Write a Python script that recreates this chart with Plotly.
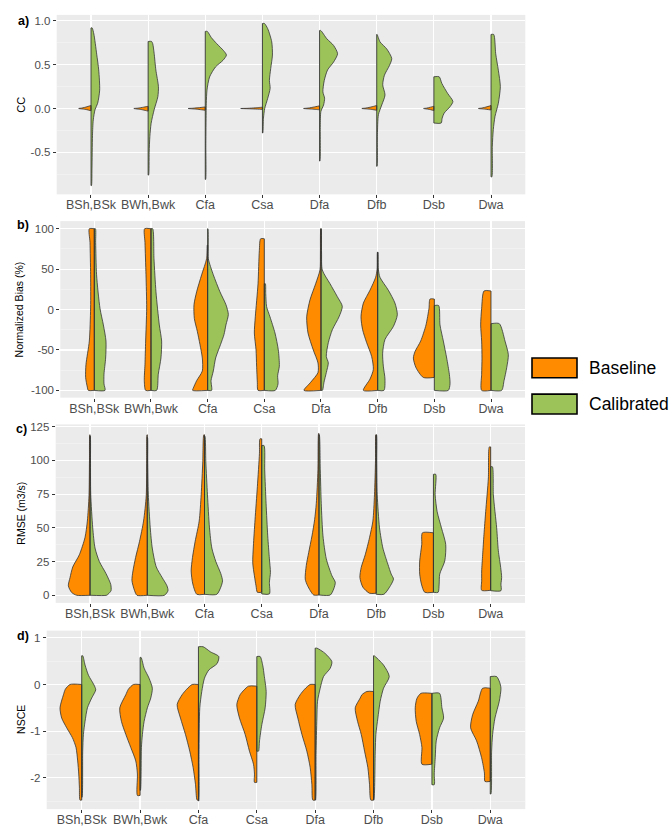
import plotly.graph_objects as go

# ---------------- data ----------------
CATEGORIES = ["BSh,BSk", "BWh,Bwk", "Cfa", "Csa", "Dfa", "Dfb", "Dsb", "Dwa"]
GROUPS = ["Baseline", "Calibrated"]

# Half-violin density profiles: (value, half-width in category units), top -> bottom
CC_BASELINE = {
    "BSh,BSk": [(0.035, 0.0), (0.02, 0.07), (0.005, 0.16), (0.0, 0.215), (-0.01, 0.1), (-0.025, 0.0)],
    "BWh,Bwk": [(0.025, 0.0), (0.015, 0.08), (0.004, 0.18), (0.0, 0.25), (-0.012, 0.12), (-0.03, 0.0)],
    "Cfa": [(0.018, 0.0), (0.01, 0.1), (0.003, 0.22), (0.0, 0.30), (-0.008, 0.15), (-0.02, 0.0)],
    "Csa": [(0.015, 0.0), (0.008, 0.12), (0.002, 0.26), (0.0, 0.38), (-0.004, 0.2), (-0.01, 0.0)],
    "Dfa": [(0.03, 0.0), (0.018, 0.09), (0.005, 0.2), (0.0, 0.28), (-0.007, 0.13), (-0.015, 0.0)],
    "Dfb": [(0.034, 0.0), (0.02, 0.08), (0.005, 0.19), (0.0, 0.26), (-0.008, 0.12), (-0.02, 0.0)],
    "Dsb": [(0.026, 0.0), (0.015, 0.06), (0.004, 0.13), (0.0, 0.18), (-0.01, 0.08), (-0.023, 0.0)],
    "Dwa": [(0.033, 0.0), (0.02, 0.07), (0.005, 0.16), (0.0, 0.22), (-0.008, 0.1), (-0.017, 0.0)],
}
CC_CALIBRATED = {
    "BSh,BSk": [(0.92, 0.02), (0.85, 0.05), (0.62, 0.10), (0.44, 0.135), (0.21, 0.152), (0.06, 0.117),
                (-0.015, 0.07), (-0.13, 0.04), (-0.31, 0.026), (-0.69, 0.017), (-0.88, 0.008)],
    "BWh,Bwk": [(0.765, 0.06), (0.74, 0.08), (0.63, 0.105), (0.44, 0.135), (0.25, 0.18), (0.135, 0.17),
                (-0.015, 0.105), (-0.17, 0.052), (-0.32, 0.03), (-0.5, 0.018), (-0.76, 0.008)],
    "Cfa": [(0.88, 0.035), (0.81, 0.105), (0.74, 0.2), (0.66, 0.32), (0.61, 0.37), (0.55, 0.31),
            (0.475, 0.18), (0.36, 0.075), (0.21, 0.03), (0.06, 0.018), (-0.05, 0.015), (-0.4, 0.01), (-0.81, 0.006)],
    "Csa": [(0.97, 0.035), (0.91, 0.093), (0.76, 0.163), (0.61, 0.175), (0.456, 0.145), (0.32, 0.122),
            (0.23, 0.135), (0.117, 0.093), (0.0, 0.04), (-0.11, 0.018), (-0.28, 0.006)],
    "Dfa": [(0.89, 0.02), (0.795, 0.128), (0.72, 0.245), (0.625, 0.315), (0.53, 0.245), (0.44, 0.14),
            (0.32, 0.082), (0.19, 0.058), (0.117, 0.088), (0.04, 0.07), (-0.034, 0.023), (-0.2, 0.012), (-0.6, 0.006)],
    "Dfb": [(0.845, 0.006), (0.76, 0.058), (0.68, 0.175), (0.57, 0.263), (0.49, 0.222), (0.38, 0.135),
            (0.27, 0.105), (0.154, 0.145), (0.04, 0.088), (-0.07, 0.03), (-0.3, 0.012), (-0.66, 0.006)],
    "Dsb": [(0.362, 0.093), (0.286, 0.14), (0.173, 0.24), (0.08, 0.333), (0.022, 0.285), (-0.053, 0.18),
            (-0.11, 0.145), (-0.166, 0.128)],
    "Dwa": [(0.845, 0.047), (0.625, 0.082), (0.437, 0.128), (0.25, 0.163), (0.06, 0.128), (-0.09, 0.07),
            (-0.24, 0.04), (-0.43, 0.023), (-0.78, 0.015)],
}

BIAS_BASELINE = {
    "BSh,BSk": [(100, 0.088), (83, 0.076), (43, 0.065), (2, 0.065), (-39, 0.088), (-68, 0.147), (-84, 0.153),
                (-96, 0.123), (-100, 0.106)],
    "BWh,Bwk": [(100, 0.112), (83, 0.106), (43, 0.088), (2, 0.076), (-39, 0.094), (-68, 0.106), (-88, 0.118),
                (-100, 0.094)],
    "Cfa": [(80, 0.005), (63, 0.018), (43, 0.106), (22, 0.194), (6, 0.241), (-11, 0.235), (-27, 0.182),
            (-43, 0.136), (-60, 0.094), (-76, 0.094), (-88, 0.194), (-97, 0.252), (-100, 0.265)],
    "Csa": [(87.6, 0.065), (73, 0.088), (32, 0.111), (-9, 0.159), (-29, 0.176), (-50, 0.146), (-70, 0.136),
            (-90, 0.123), (-100, 0.111)],
    "Dfa": [(100, 0.004), (70, 0.01), (49, 0.018), (32, 0.094), (12, 0.194), (-9, 0.252), (-29, 0.229),
            (-50, 0.136), (-66, 0.053), (-78, 0.053), (-90, 0.182), (-100, 0.3)],
    "Dfb": [(71, 0.004), (50, 0.01), (40, 0.035), (24, 0.135), (8, 0.252), (-9, 0.294), (-25, 0.265),
            (-41, 0.194), (-58, 0.106), (-74, 0.076), (-86, 0.135), (-100, 0.252)],
    "Dsb": [(13, 0.076), (1.6, 0.094), (-19, 0.147), (-39, 0.241), (-52, 0.341), (-60, 0.37), (-72, 0.323),
            (-84, 0.194)],
    "Dwa": [(23, 0.123), (1.6, 0.165), (-19, 0.182), (-39, 0.165), (-60, 0.159), (-80, 0.165), (-100, 0.165)],
}
BIAS_CALIBRATED = {
    "BSh,BSk": [(100, 0.02), (83, 0.024), (43, 0.04), (1.6, 0.1), (-19, 0.16), (-39, 0.206), (-60, 0.2),
                (-80, 0.171), (-92, 0.171), (-100, 0.189)],
    "BWh,Bwk": [(100, 0.03), (63, 0.053), (22, 0.088), (-19, 0.147), (-39, 0.188), (-60, 0.176), (-80, 0.129),
                (-100, 0.1)],
    "Cfa": [(100, 0.005), (75, 0.01), (63, 0.012), (43, 0.1), (22, 0.217), (6, 0.323), (-6, 0.365),
            (-19, 0.323), (-31, 0.288), (-43, 0.229), (-60, 0.141), (-76, 0.1), (-88, 0.06), (-100, 0.07)],
    "Csa": [(32, 0.018), (20, 0.025), (3.7, 0.04), (-9, 0.1), (-29, 0.188), (-50, 0.247), (-70, 0.265),
            (-82, 0.235), (-92, 0.242), (-100, 0.194)],
    "Dfa": [(100, 0.004), (70, 0.01), (49, 0.023), (32, 0.159), (16, 0.288), (4, 0.376), (-9, 0.318),
            (-25, 0.2), (-41, 0.129), (-58, 0.094), (-66, 0.129), (-78, 0.094), (-90, 0.053), (-100, 0.025)],
    "Dfb": [(71, 0.004), (50, 0.012), (40, 0.04), (24, 0.188), (8, 0.305), (-6.5, 0.347), (-21, 0.277),
            (-37, 0.129), (-54, 0.088), (-70, 0.1), (-86, 0.129), (-100, 0.111)],
    "Dsb": [(5, 0.076), (-19, 0.1), (-39, 0.159), (-60, 0.218), (-80, 0.265), (-92, 0.277), (-100, 0.247)],
    "Dwa": [(-17.5, 0.147), (-39, 0.247), (-56, 0.306), (-72, 0.277), (-88, 0.23), (-100, 0.188)],
}

RMSE_BASELINE = {
    "BSh,BSk": [(119, 0.004), (100, 0.01), (74, 0.018), (55, 0.047), (43, 0.087), (30, 0.187), (21, 0.302),
                (13, 0.35), (7, 0.379), (2, 0.32), (0, 0.233)],
    "BWh,Bwk": [(119, 0.004), (100, 0.01), (74, 0.018), (55, 0.065), (40, 0.135), (28, 0.204), (18, 0.25),
                (11, 0.268), (3.4, 0.222), (0, 0.18)],
    "Cfa": [(119, 0.012), (99, 0.03), (74.5, 0.058), (55, 0.093), (40, 0.163), (28, 0.21), (18, 0.233),
            (8.3, 0.204), (0.7, 0.134)],
    "Csa": [(116, 0.03), (105, 0.04), (80.6, 0.076), (56, 0.117), (36.5, 0.146), (24, 0.157), (14.4, 0.128),
            (7, 0.1), (2.2, 0.076)],
    "Dfa": [(120, 0.006), (93, 0.018), (68, 0.047), (56, 0.076), (44, 0.122), (31.6, 0.18), (22, 0.222),
            (12, 0.24), (7, 0.198), (0.2, 0.093)],
    "Dfb": [(119, 0.006), (100, 0.012), (74.5, 0.03), (55, 0.058), (42.6, 0.117), (30, 0.192), (20.6, 0.262),
            (13.2, 0.285), (6, 0.233), (1.5, 0.117)],
    "Dsb": [(46.3, 0.192), (37.7, 0.204), (25.4, 0.24), (15.7, 0.24), (8.3, 0.21), (2.2, 0.152)],
    "Dwa": [(110, 0.023), (87, 0.04), (62, 0.087), (45, 0.117), (30, 0.14), (18, 0.157), (10.7, 0.157),
            (3.7, 0.157)],
}
RMSE_CALIBRATED = {
    "BSh,BSk": [(118, 0.004), (100, 0.008), (75, 0.012), (50, 0.047), (35, 0.087), (25, 0.163), (16, 0.28),
                (8, 0.362), (3.4, 0.367), (1, 0.32), (0, 0.29)],
    "BWh,Bwk": [(117, 0.004), (100, 0.008), (75, 0.018), (50, 0.052), (35, 0.087), (21, 0.157), (13, 0.262),
                (7, 0.344), (3.4, 0.362), (0, 0.3)],
    "Cfa": [(118, 0.008), (99, 0.023), (74.5, 0.052), (50, 0.087), (35, 0.128), (25, 0.198), (16, 0.285),
            (10.7, 0.315), (6, 0.285), (0.7, 0.215)],
    "Csa": [(111, 0.04), (93, 0.052), (68, 0.076), (44, 0.105), (27, 0.134), (17, 0.152), (9.6, 0.134),
            (1, 0.134)],
    "Dfa": [(119, 0.006), (93, 0.023), (68, 0.04), (44, 0.07), (27, 0.128), (14.4, 0.227), (9.6, 0.285),
            (4.6, 0.257), (0.2, 0.198)],
    "Dfb": [(119, 0.006), (100, 0.01), (74.5, 0.018), (50, 0.058), (35, 0.117), (23, 0.204), (15.7, 0.262),
            (12, 0.302), (6, 0.233), (0.7, 0.134)],
    "Dsb": [(89.7, 0.04), (74.5, 0.03), (62, 0.065), (50, 0.14), (37.7, 0.215), (25.4, 0.198), (15.7, 0.11),
            (8.3, 0.1), (2.2, 0.082)],
    "Dwa": [(95.3, 0.03), (74.5, 0.047), (50, 0.105), (33, 0.134), (20.6, 0.175), (13.2, 0.192), (8.3, 0.18),
            (3.4, 0.18)],
}

NSCE_BASELINE = {
    "BSh,BSk": [(0, 0.2), (-0.1, 0.28), (-0.22, 0.313), (-0.5, 0.372), (-0.72, 0.343), (-0.93, 0.257),
                (-1.14, 0.16), (-1.35, 0.098), (-1.64, 0.069), (-1.92, 0.051), (-2.2, 0.04), (-2.48, 0.029)],
    "BWh,Bwk": [(0, 0.114), (-0.1, 0.2), (-0.22, 0.245), (-0.5, 0.348), (-0.79, 0.32), (-1.07, 0.245),
                (-1.35, 0.16), (-1.64, 0.074), (-1.92, 0.046), (-2.38, 0.046)],
    "Cfa": [(0, 0.108), (-0.1, 0.2), (-0.22, 0.28), (-0.43, 0.365), (-0.72, 0.308), (-1.07, 0.223),
            (-1.43, 0.149), (-1.78, 0.091), (-2.14, 0.051), (-2.48, 0.023)],
    "Csa": [(-0.036, 0.143), (-0.12, 0.22), (-0.22, 0.286), (-0.43, 0.343), (-0.72, 0.297), (-1.07, 0.2),
            (-1.43, 0.126), (-1.71, 0.057), (-1.92, 0.04), (-2.1, 0.04)],
    "Dfa": [(0, 0.086), (-0.1, 0.18), (-0.22, 0.257), (-0.43, 0.343), (-0.72, 0.297), (-1.07, 0.228),
            (-1.43, 0.143), (-1.78, 0.086), (-2.14, 0.057), (-2.48, 0.04)],
    "Dfb": [(-0.15, 0.114), (-0.22, 0.2), (-0.29, 0.228), (-0.5, 0.314), (-0.79, 0.274), (-1.07, 0.211),
            (-1.43, 0.154), (-1.78, 0.098), (-2.14, 0.069), (-2.48, 0.046)],
    "Dsb": [(-0.19, 0.188), (-0.3, 0.257), (-0.5, 0.286), (-0.79, 0.269), (-1.07, 0.211), (-1.35, 0.171),
            (-1.71, 0.171)],
    "Dwa": [(-0.08, 0.131), (-0.36, 0.206), (-0.65, 0.303), (-0.93, 0.337), (-1.21, 0.234), (-1.57, 0.149),
            (-1.9, 0.1), (-2.08, 0.091)],
}
NSCE_CALIBRATED = {
    "BSh,BSk": [(0.617, 0.017), (0.417, 0.057), (0.2, 0.115), (-0.01, 0.21), (-0.115, 0.24), (-0.29, 0.171),
                (-0.5, 0.098), (-0.79, 0.057), (-1.07, 0.029), (-1.43, 0.017), (-2.42, 0.006)],
    "BWh,Bwk": [(0.58, 0.017), (0.35, 0.069), (0.134, 0.154), (-0.08, 0.21), (-0.29, 0.183), (-0.5, 0.125),
                (-0.79, 0.069), (-1.07, 0.04), (-1.35, 0.023), (-2.27, 0.006)],
    "Cfa": [(0.81, 0.08), (0.7, 0.206), (0.6, 0.348), (0.45, 0.32), (0.31, 0.177), (0.134, 0.103),
            (-0.15, 0.057), (-0.5, 0.023), (-1.5, 0.01), (-2.5, 0.005)],
    "Csa": [(0.6, 0.057), (0.4, 0.103), (0.2, 0.126), (-0.15, 0.16), (-0.5, 0.143), (-0.86, 0.086),
            (-1.21, 0.046), (-1.43, 0.029)],
    "Dfa": [(0.78, 0.029), (0.666, 0.171), (0.49, 0.286), (0.347, 0.257), (0.17, 0.143), (-0.08, 0.086),
            (-0.36, 0.04), (-0.72, 0.029), (-1.5, 0.015), (-2.48, 0.006)],
    "Dfb": [(0.617, 0.01), (0.417, 0.171), (0.17, 0.269), (-0.08, 0.171), (-0.36, 0.114), (-0.72, 0.074),
            (-1.07, 0.04), (-1.43, 0.029), (-2.48, 0.006)],
    "Dsb": [(-0.19, 0.131), (-0.5, 0.171), (-0.72, 0.2), (-0.93, 0.131), (-1.21, 0.074), (-1.57, 0.057),
            (-1.92, 0.04), (-2.15, 0.04)],
    "Dwa": [(0.17, 0.108), (0.05, 0.16), (-0.08, 0.183), (-0.36, 0.154), (-0.72, 0.08), (-1.07, 0.04),
            (-1.43, 0.023), (-2.35, 0.011)],
}

PANEL_LABELS = ["a)", "b)", "c)", "d)"]
Y_TITLES = ["CC", "Normalized Bias (%)", "RMSE (m3/s)", "NSCE"]
Y_TICKS = [[-0.5, 0.0, 0.5, 1.0], [-100, -50, 0, 50, 100], [0, 25, 50, 75, 100, 125], [-2, -1, 0, 1]]
Y_TICKTEXT = [["-0.5", "0.0", "0.5", "1.0"], ["-100", "-50", "0", "50", "100"],
              ["0", "25", "50", "75", "100", "125"], ["-2", "-1", "0", "1"]]

# ---------------- style / layout ----------------
W, H = 672, 827
COLORS = {"Baseline": "#FF8C00", "Calibrated": "#9CC35A"}
OUTLINE = "#333333"
FONT = "Liberation Sans, Arial, sans-serif"

panels = [
    dict(base=CC_BASELINE, cal=CC_CALIBRATED, xdom=(56.7, 525.3), ydom=(11, 192), yr=(-0.98, 1.068),
         minor=0.25, lab=(23, 17)),
    dict(base=BIAS_BASELINE, cal=BIAS_CALIBRATED, xdom=(60.3, 525.0), ydom=(219, 397), yr=(-109, 109.4),
         minor=25, lab=(22.5, 223)),
    dict(base=RMSE_BASELINE, cal=RMSE_CALIBRATED, xdom=(55.7, 525.0), ydom=(424, 604), yr=(-5.66, 126.7),
         minor=12.5, lab=(21.5, 429)),
    dict(base=NSCE_BASELINE, cal=NSCE_CALIBRATED, xdom=(46.7, 525.3), ydom=(632, 812), yr=(-2.674, 1.155),
         minor=0.5, lab=(23, 637)),
]

fig = go.Figure()


def half_violin(center, prof, side):
    ys = [p[0] for p in prof]
    xs = [center + side * p[1] for p in prof]
    return [center] + xs + [center], [ys[0]] + ys + [ys[-1]]


for i, pan in enumerate(panels):
    sfx = "" if i == 0 else str(i + 1)
    xa, ya = "x" + sfx, "y" + sfx
    cx, cy = [], []
    for gname, prof_dict, side in (("Baseline", pan["base"], -1), ("Calibrated", pan["cal"], 1)):
        for k, cat in enumerate(CATEGORIES):
            center = k + 1
            prof = prof_dict[cat]
            x, y = half_violin(center, prof, side)
            fig.add_trace(go.Scatter(
                x=x, y=y, xaxis=xa, yaxis=ya, mode="lines", fill="toself",
                fillcolor=COLORS[gname], line=dict(color=OUTLINE, width=0.8, shape="spline", smoothing=0.7),
                hoverinfo="skip", showlegend=False, name=gname))
            cx += [center, center, None]
            cy += [prof[0][0], prof[-1][0], None]
    fig.add_trace(go.Scatter(x=cx, y=cy, xaxis=xa, yaxis=ya, mode="lines",
                             line=dict(color=OUTLINE, width=0.9), hoverinfo="skip", showlegend=False))

    x0, x1 = pan["xdom"]
    t0, t1 = pan["ydom"]
    fig.update_layout(**{
        "xaxis" + sfx: dict(
            domain=[x0 / W, x1 / W], anchor=ya, range=[0.4, 8.6],
            tickvals=list(range(1, len(CATEGORIES) + 1)), ticktext=CATEGORIES,
            showgrid=True, gridcolor="white", gridwidth=1.2, zeroline=False,
            ticks="outside", ticklen=3, tickwidth=1, tickcolor=OUTLINE, ticklabelstandoff=-4,
            tickfont=dict(size=12.5, color="#4D4D4D", family=FONT), fixedrange=True),
        "yaxis" + sfx: dict(
            domain=[1 - t1 / H, 1 - t0 / H], anchor=xa, range=list(pan["yr"]),
            tickvals=Y_TICKS[i], ticktext=Y_TICKTEXT[i],
            showgrid=True, gridcolor="white", gridwidth=1.2, zeroline=False,
            minor=dict(dtick=pan["minor"], tick0=0, showgrid=True, gridcolor="#F5F5F5", gridwidth=0.6),
            ticks="outside", ticklen=3, tickwidth=1, tickcolor=OUTLINE,
            tickfont=dict(size=11.5, color="#4D4D4D", family=FONT), fixedrange=True),
    })
    # axis title
    fig.add_annotation(x=(19 if i == 1 else 21) / W, y=1 - ((t0 + t1) / 2) / H, xref="paper", yref="paper",
                       xanchor="center", yanchor="middle",
                       text=Y_TITLES[i], textangle=-90, showarrow=False,
                       font=dict(size=10.5 if i != 0 else 11, color="black", family=FONT))
    # panel label
    lx, ly = pan["lab"]
    fig.add_annotation(x=lx / W, y=1 - ly / H, xref="paper", yref="paper",
                       xanchor="center", yanchor="middle",
                       text="<b>" + PANEL_LABELS[i] + "</b>", showarrow=False,
                       font=dict(size=12.5, color="black", family=FONT))

# legend (drawn manually to match the large keys)
for j, g in enumerate(GROUPS):
    top = 357 + j * 36.5
    fig.add_shape(type="rect", xref="paper", yref="paper",
                  x0=532 / W, x1=577 / W, y0=1 - (top + 20) / H, y1=1 - top / H,
                  fillcolor=COLORS[g], line=dict(color="black", width=1.6))
    fig.add_annotation(x=587 / W, y=1 - (top + 10) / H, xref="paper", yref="paper",
                       xanchor="left", yanchor="middle",
                       text=g, showarrow=False, font=dict(size=17.5, color="black", family=FONT))

fig.update_layout(width=W, height=H, margin=dict(l=0, r=0, t=0, b=0),
                  paper_bgcolor="white", plot_bgcolor="#EBEBEB", showlegend=False,
                  font=dict(family=FONT))

fig.write_html("out.html", config={"displayModeBar": False, "staticPlot": True},
               post_script="document.body.style.margin='0';document.body.style.overflow='hidden';")
